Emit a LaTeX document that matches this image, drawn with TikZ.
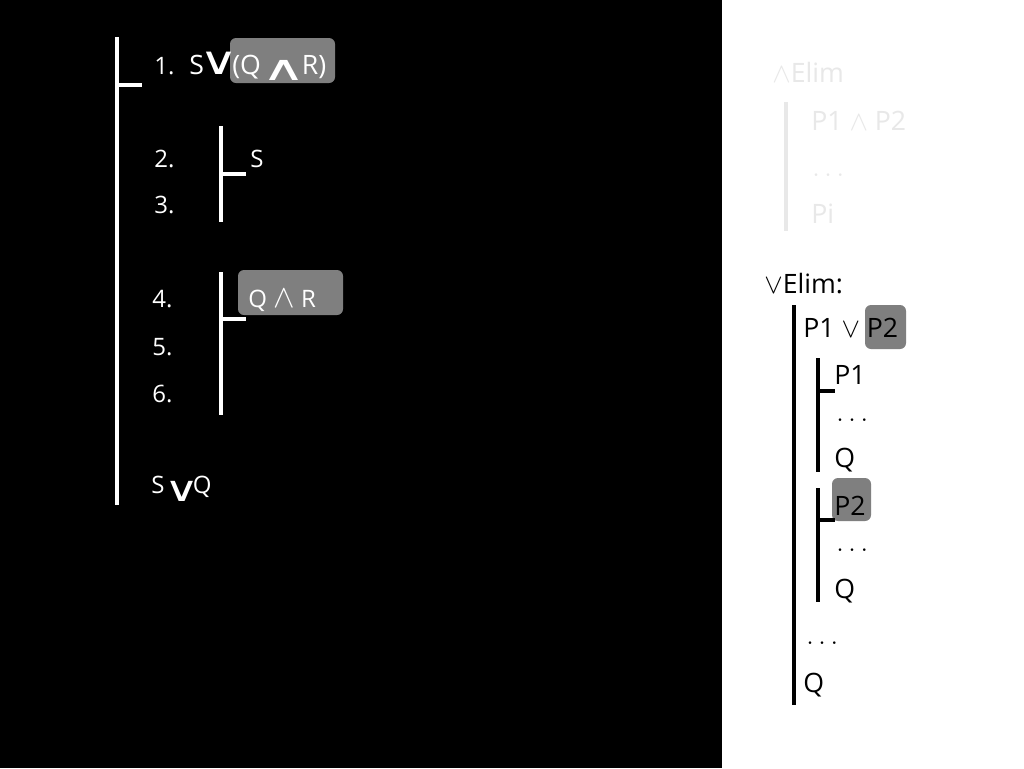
\documentclass[tikz,border=0pt]{standalone}
\usepackage{fontspec}
\setmainfont{Open Sans}
\newfontfamily\symfont{DejaVu Sans}
\usepackage{graphicx}
\usepackage{tikz}
\usepackage{xcolor}
\definecolor{FontColor}{HTML}{FFFFFF}
\definecolor{PaleNC}{HTML}{E8E8E8}
\definecolor{MarkNC}{HTML}{7F7F7F}
\newcommand\bigor{\scalebox{2.0}[1.45]{\symfont ∨}}
\newcommand\lowor{\raisebox{-6pt}{\bigor}}
\newcommand\bigand{\raisebox{-5pt}{\scalebox{2.3}[1.3]{\symfont ∧}}}
\newcommand\nodeprem{S\kern-3pt\bigor\kern-5pt(Q\kern0.5pt\bigand\kern-3.5pt R)}
\newcommand\nodeconc{S\lowor\kern-5pt Q}
\newcommand\nodeqr{Q \scalebox{1.4}{$\wedge$} R}
\newcommand\nodeandelim{$\wedge$Elim}
\newcommand\nodeorelim{$\vee$Elim:}
\newcommand\nodedisj{P1 $\vee$ P2}
\newcommand\nodeconj{P1 $\wedge$ P2}
\tikzstyle{lbl} = [inner sep=0pt, anchor=base west]
\tikzstyle{ln} = [lbl, text=FontColor, font=\fontsize{18}{22}\selectfont]
\tikzstyle{rn} = [lbl, text=black, font=\fontsize{20}{24}\selectfont]
\tikzstyle{pn} = [rn, text=PaleNC]
\tikzstyle{hilite} = [fill=MarkNC, rounded corners=4.5pt]
\tikzstyle{wbar} = [draw=white]
\tikzstyle{bbar} = [draw=black]
\tikzstyle{pbar} = [draw=PaleNC]
\tikzset{x=0.75pt, y=-0.75pt, every picture/.style={line width=3.5pt}}
\begin{document}
\begin{tikzpicture}
\useasboundingbox (0,0) rectangle (1024,768);
\fill[black] (0,0) rectangle (722,768);
\fill[white] (722,0) rectangle (1024,768);
% highlights
\fill[hilite] (230,38) rectangle (335,83);
\fill[hilite] (238,270) rectangle (343,315);
\fill[hilite] (865,305) rectangle (906,349);
\fill[hilite] (832,478) rectangle (871,521);
% left proof
\node[ln] (n1) at (152,74) {1.};
\node[ln, font=\fontsize{20}{24}\selectfont] (prem) at (187,74) {\nodeprem};
\node[ln] (n2) at (152,167) {2.};
\node[ln] (s) at (248,167) {S};
\node[ln] (n3) at (152,213) {3.};
\node[ln] (n4) at (150,307) {4.};
\node[ln] (qr) at (246,307) {\nodeqr};
\node[ln] (n5) at (150,355) {5.};
\node[ln] (n6) at (150,402) {6.};
\node[ln] (conc) at (149,493) {\nodeconc};
\coordinate (mtop) at (117,37);
\coordinate (mbot) at (117,505);
\coordinate (mtick) at (142,85);
\coordinate (atop) at (221,126);
\coordinate (abot) at (221,222);
\coordinate (atick) at (246,174);
\coordinate (btop) at (221,272);
\coordinate (bbot) at (221,415);
\coordinate (btick) at (246,319);
\draw[wbar] (mtop) -- (mbot);
\draw[wbar] (mtop |- mtick) -- (mtick);
\draw[wbar] (atop) -- (abot);
\draw[wbar] (atop |- atick) -- (atick);
\draw[wbar] (btop) -- (bbot);
\draw[wbar] (btop |- btick) -- (btick);
% and elim
\node[pn] (andelim) at (770,82) {\nodeandelim};
\node[pn] (conj) at (809,130) {\nodeconj};
\node[pn] (pdots) at (810,176) {$\ldots$};
\node[pn] (pi) at (809,223) {Pi};
\coordinate (ptop) at (786,102);
\coordinate (pbot) at (786,231);
\draw[pbar] (ptop) -- (pbot);
% or elim
\node[rn] (orelim) at (762,293) {\nodeorelim};
\node[rn] (disj) at (801,337) {\nodedisj};
\node[rn] (p1) at (832,384) {P1};
\node[rn] (dots1) at (834,421) {$\ldots$};
\node[rn] (q1) at (832,467) {Q};
\node[rn] (p2) at (832,515) {P2};
\node[rn] (dots2) at (834,551) {$\ldots$};
\node[rn] (q2) at (832,598) {Q};
\node[rn] (dots3) at (804,644) {$\ldots$};
\node[rn] (q3) at (801,692) {Q};
\coordinate (otop) at (794,305);
\coordinate (obot) at (794,705);
\coordinate (ctop) at (818,358);
\coordinate (cbot) at (818,472);
\coordinate (ctick) at (835,391);
\coordinate (dtop) at (818,488);
\coordinate (dbot) at (818,602);
\coordinate (dtick) at (835,520);
\draw[bbar] (otop) -- (obot);
\draw[bbar] (ctop) -- (cbot);
\draw[bbar] (ctop |- ctick) -- (ctick);
\draw[bbar] (dtop) -- (dbot);
\draw[bbar] (dtop |- dtick) -- (dtick);
\end{tikzpicture}
\end{document}
